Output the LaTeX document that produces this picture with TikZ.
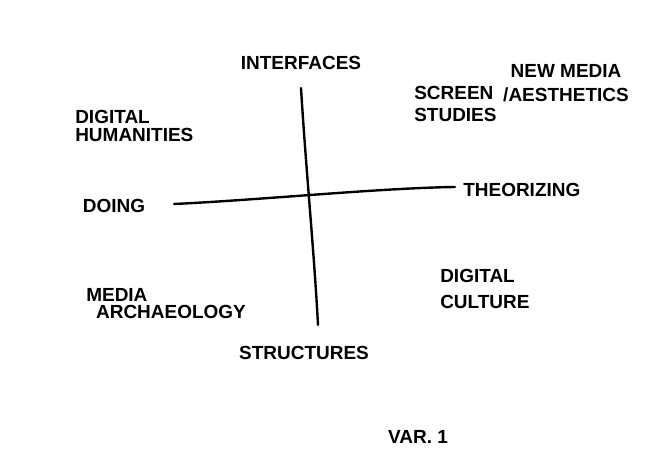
\documentclass[tikz,border=0pt]{standalone}
\usepackage{fontspec}
\setmainfont{Liberation Sans}
\usetikzlibrary{positioning}

\tikzset{
  sketch/.style={black, line width=1.7pt, line cap=round},
  word/.style={font=\fontsize{13.5}{16}\selectfont\bfseries, inner sep=0pt},
}

\begin{document}
\begin{tikzpicture}[x=0.025cm, y=-0.025cm]
\useasboundingbox[fill=white] (0,0) rectangle (650,464);

% axis ends
\coordinate (top) at (301,88);
\coordinate (bottom) at (318,325);
\coordinate (left) at (174,204);
\coordinate (right) at (455,187);

\draw[sketch] (top) .. controls (306,170) and (314,250) .. (bottom);
\draw[sketch] (left) .. controls (260,200) and (380,188) .. (right);

% axis labels
\node[word, anchor=center] (interfaces) at (301,63) {INTERFACES};
\node[word, anchor=center] (structures) at (304,353) {STRUCTURES};
\node[word, anchor=center] (doing) at (114,206) {DOING};
\node[word, anchor=west] (theorizing) at (463,190) {THEORIZING};

% quadrants
\node[word, anchor=west, align=left] (dh) at (75,126) {DIGITAL\\[-3pt]HUMANITIES};
\node[word, anchor=west, align=left] (screen) at (414,104) {SCREEN\\[-1pt]STUDIES};
\node[word, anchor=center, align=center] (newmedia) at (566,83) {NEW MEDIA\\[1.5pt]/AESTHETICS};
\node[word, anchor=west, align=left] (archaeology) at (86,304) {MEDIA\\[-4pt]\hspace{7pt}ARCHAEOLOGY};
\node[word, anchor=west, align=left] (culture) at (440,289) {DIGITAL\\[2.5pt]CULTURE};

\node[word, anchor=center] (variant) at (418,437) {VAR. 1};

\end{tikzpicture}
\end{document}
